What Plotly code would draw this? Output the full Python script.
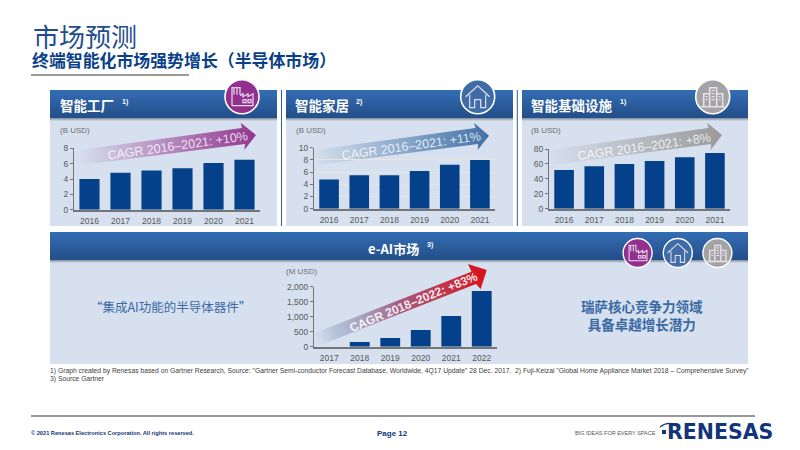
import base64
import plotly.graph_objects as go

years_factory = ["2016", "2017", "2018", "2019", "2020", "2021"]
values_factory = [4.0, 4.8, 5.1, 5.4, 6.1, 6.5]
ticks_factory = [0, 2, 4, 6, 8]

years_home = ["2016", "2017", "2018", "2019", "2020", "2021"]
values_home = [4.8, 5.5, 5.5, 6.2, 7.2, 8.0]
ticks_home = [0, 2, 4, 6, 8, 10]

years_infra = ["2016", "2017", "2018", "2019", "2020", "2021"]
values_infra = [52, 57, 60, 64, 69, 74.5]
ticks_infra = [0, 20, 40, 60, 80]

years_eai = ["2017", "2018", "2019", "2020", "2021", "2022"]
values_eai = [0, 155, 290, 555, 1020, 1855]
ticks_eai = [0, 500, 1000, 1500, 2000]

W, H = 800, 450
NAVY = "#05408A"
TICK = "#595959"
SANS = "Liberation Sans, Arial, sans-serif"
CJK = "Noto Sans CJK SC, sans-serif"


def arrow(gid, color, pts, x1, y1, x2, y2, mid=None):
    p = " ".join(f"{a},{b}" for a, b in pts)
    midstop = f'<stop offset="0.5" stop-color="{mid}"/>' if mid else ""
    start = "#8A9CC0" if mid else color
    return (
        f'<linearGradient id="{gid}" gradientUnits="userSpaceOnUse" x1="{x1}" y1="{y1}" x2="{x2}" y2="{y2}">'
        f'<stop offset="0" stop-color="{start}" stop-opacity="0"/>'
        f'<stop offset="0.12" stop-color="{start}" stop-opacity="{0.45 if mid else 0.12}"/>'
        f'{midstop}<stop offset="1" stop-color="{color}"/></linearGradient>'
        f'<polygon points="{p}" fill="url(#{gid})"/>'
    )


def header(x, y, w, h):
    return (
        f'<rect x="{x}" y="{y+h}" width="{w}" height="3" fill="url(#shadow)"/>'
        f'<rect x="{x}" y="{y}" width="{w}" height="{h}" fill="url(#head)"/>'
    )


def badge(cx, cy, r, fill, kind):
    s = r / 17
    g = f'<circle cx="{cx}" cy="{cy}" r="{r}" fill="{fill}" stroke="#ffffff" stroke-width="{1.6*s}"/>'
    g += f'<g transform="translate({cx},{cy}) scale({s})" fill="none" stroke="#e8e0ee" stroke-width="1.2">'
    if kind == "factory":
        g += ('<path d="M-10,9 V-9 H-8 V-2 M-7,-9 H-5 V-2 M-4,-9 H-2 V-2 M-10,9 H11 V-3 L6,0 V-3 L1,0 V-3 L-2,-1"/>'
              '<rect x="1" y="3" width="3" height="3"/><rect x="6" y="3" width="3" height="3"/>')
    elif kind == "house":
        g += '<path d="M-12,0 L0,-11 L12,0 M-8,-2 V11 H-3 V3 H3 V11 H8 V-2"/>'
    else:
        g += ('<path d="M-9,10 V-3 H-3 M-3,10 V-9 H4 V10 M4,-3 H10 V10 M-12,10 H12" stroke-width="1.6"/>'
              '<path d="M-1,-6 H2 M-1,-3 H2 M-1,0 H2 M-1,3 H2 M-7,0 H-5 M-7,3 H-5 M6,0 H8 M6,3 H8"/>')
    return g + "</g>"


svg = f'<svg xmlns="http://www.w3.org/2000/svg" width="{W}" height="{H}" viewBox="0 0 {W} {H}">'
svg += (
    '<defs><linearGradient id="head" x1="0" y1="0" x2="0" y2="1">'
    '<stop offset="0" stop-color="#346DB5"/><stop offset="1" stop-color="#234E88"/></linearGradient>'
    '<linearGradient id="shadow" x1="0" y1="0" x2="0" y2="1">'
    '<stop offset="0" stop-color="#7f8a99"/><stop offset="1" stop-color="#d6e0ee"/></linearGradient></defs>'
)
svg += f'<rect width="{W}" height="{H}" fill="#ffffff"/>'
svg += '<rect x="31" y="74" width="158" height="2" fill="#999999"/>'
svg += '<rect x="31" y="415.5" width="724" height="1" fill="#333333"/>'
for x, w in [(50, 227), (286, 227), (522, 226)]:
    svg += f'<rect x="{x}" y="90" width="{w}" height="136" fill="#D6E0EE"/>'
    svg += header(x, 90, w, 28)
svg += '<rect x="50" y="232" width="698" height="132" fill="#D6E0EE"/>'
svg += header(50, 232, 698, 28)
for x in (281.5, 517.3):
    svg += f'<rect x="{x-0.5}" y="90" width="1" height="136" fill="#2F5F9A"/>'
svg += arrow("a1", "#93368F", [(79, 150), (242, 128), (240.7, 122.7), (256, 135), (244.3, 150), (245, 144), (81, 165)], 79, 158, 256, 135)
svg += arrow("a2", "#4272A8", [(314, 150), (475.5, 128), (474, 122.7), (489, 135.7), (477.7, 150), (478, 144), (316, 165)], 314, 158, 489, 135)
svg += arrow("a3", "#9A9A9A", [(548, 150), (708.5, 128), (707, 122.7), (722, 135), (710.7, 150), (711, 144), (550, 165)], 548, 158, 722, 135)
svg += arrow("a4", "#DB0F19", [(314.6, 333), (471.5, 271.7), (468, 264), (486.7, 270), (480.7, 289), (476, 284), (318, 346)], 316, 340, 486, 272, mid="#A55C80")
svg += badge(242, 96.7, 17, "#93308F", "factory")
svg += badge(477.7, 96.7, 17, "#3E6CA6", "house")
svg += badge(712.7, 96.7, 17, "#A3A3A3", "infra")
svg += badge(637.6, 253, 14.5, "#93308F", "factory")
svg += badge(677.8, 253, 14.5, "#3E6CA6", "house")
svg += badge(717.4, 253, 14.5, "#A3A3A3", "infra")
svg += '<rect x="662" y="430" width="4" height="4" fill="#12357A"/>'
svg += '<path d="M660,427 Q668,421 675,425" fill="none" stroke="#12357A" stroke-width="1.2"/>'
svg += "</svg>"
bg = "data:image/svg+xml;base64," + base64.b64encode(svg.encode()).decode()

fig = go.Figure()
layout = dict(
    width=W, height=H, autosize=False, margin=dict(l=0, r=0, t=0, b=0, pad=0, autoexpand=False),
    paper_bgcolor="white", plot_bgcolor="rgba(0,0,0,0)", showlegend=False, bargap=0.35,
    images=[dict(source=bg, xref="paper", yref="paper", x=0, y=1, sizex=1, sizey=1,
                 xanchor="left", yanchor="top", sizing="stretch", layer="below")],
)

charts = [
    ("", years_factory, values_factory, ticks_factory, 74, 260, 148.3, 209.7, 8, "", False),
    ("2", years_home, values_home, ticks_home, 314, 495, 147.7, 208.7, 10, "", True),
    ("3", years_infra, values_infra, ticks_infra, 549, 730, 149, 208.7, 80, "", False),
    ("4", years_eai, values_eai, ticks_eai, 314, 497, 286.7, 346.7, 2000, ",", False),
]
for sid, xs, ys, ticks, x0, x1, ytop, ybot, ymax, sep, grid in charts:
    fig.add_trace(go.Bar(x=xs, y=ys, marker=dict(color=NAVY, line=dict(width=0)),
                         xaxis="x" + sid, yaxis="y" + sid, hoverinfo="skip"))
    layout["xaxis" + sid] = dict(
        domain=[x0 / W, x1 / W], anchor="y" + sid, type="category", range=[-0.5, 5.5],
        showgrid=False, showline=True, linecolor="#757575", linewidth=2, ticks="", zeroline=False,
        tickfont=dict(family=SANS, size=8.5, color=TICK), ticklabelstandoff=2,
    )
    layout["yaxis" + sid] = dict(
        domain=[1 - ybot / H, 1 - ytop / H], anchor="x" + sid, range=[0, ymax],
        tickvals=ticks, tickformat=sep + "d" if sep else "d",
        showgrid=grid, gridcolor="#E6E6E0", gridwidth=1, zeroline=False,
        showline=True, linecolor="#757575", linewidth=1, ticks="outside", ticklen=3,
        tickcolor="#757575", tickfont=dict(family=SANS, size=8.5, color=TICK),
    )


def label(text, x, y, size, color, family=SANS, anchor="left", angle=0):
    return dict(text=text, x=x / W, y=1 - y / H, xref="paper", yref="paper", showarrow=False,
                xanchor=anchor, yanchor="middle", textangle=angle,
                font=dict(family=family, size=size, color=color), borderpad=0, borderwidth=0)


WHITE = "#FFFFFF"
ann = [
    label("市场预测", 33, 36, 26, "#1F4E8C", CJK),
    label("<b>终端智能化市场强势增长（半导体市场）</b>", 32, 59.5, 16.9, "#0A3F8A", CJK),
    label("<b>智能工厂</b>", 60, 105, 13.5, WHITE, CJK),
    label("<b>1)</b>", 122, 102, 7, WHITE),
    label("<b>智能家居</b>", 295, 105, 13.5, WHITE, CJK),
    label("<b>2)</b>", 356, 102, 7, WHITE),
    label("<b>智能基础设施</b>", 531, 105, 13.5, WHITE, CJK),
    label("<b>1)</b>", 620, 102, 7, WHITE),
    label("<b>e-AI市场</b>", 393, 248, 13, WHITE, CJK, "center"),
    label("<b>3)</b>", 427, 245, 7, WHITE),
    label("(B USD)", 60, 130, 8, "#6F6F6F"),
    label("(B USD)", 296, 130, 8, "#6F6F6F"),
    label("(B USD)", 531, 130, 8, "#6F6F6F"),
    label("(M USD)", 286, 271, 8, "#6F6F6F"),
    label("CAGR 2016–2021: +10%", 177, 146, 12.5, "rgba(255,255,255,0.8)", SANS, "center", -8),
    label("CAGR 2016–2021: +11%", 411, 146, 12.5, "rgba(255,255,255,0.8)", SANS, "center", -8),
    label("CAGR 2016–2021: +8%", 644, 147, 12.5, "rgba(255,255,255,0.8)", SANS, "center", -8),
    label("<b>CAGR 2018–2022: +83%</b>", 414, 302, 12, "rgba(255,255,255,0.9)", SANS, "center", -22.6),
    label("“集成AI功能的半导体器件”", 170.6, 306, 12.5, "#3A6AA5", CJK, "center"),
    label("<b>瑞萨核心竞争力领域<br>具备卓越增长潜力</b>", 642, 315, 13.5, "#3A6AA5", CJK, "center"),
    label("1) Graph created by Renesas based on Gartner Research, Source: \"Gartner Semi-conductor Forecast Database, "
          "Worldwide, 4Q17 Update\" 28 Dec. 2017.  2) Fuji-Keizai \"Global Home Appliance Market 2018 – Comprehensive Survey\"",
          50, 371, 6.75, "#404040"),
    label("3) Source Gartner", 50, 379, 6.75, "#404040"),
    label("<b>© 2021 Renesas Electronics Corporation. All rights reserved.</b>", 31, 433, 5.65, "#12357A"),
    label("<b>Page 12</b>", 392, 433, 8, "#12357A", SANS, "center"),
    label("BIG IDEAS FOR EVERY SPACE", 575, 433, 5.5, "#555555"),
    label("<b>RENESAS</b>", 667, 432, 20.5, "#12357A", "DejaVu Sans, sans-serif"),
]
layout["annotations"] = ann
fig.update_layout(**layout)
fig.write_html("out.html", config=dict(displayModeBar=False),
               post_script="document.body.style.margin='0';document.documentElement.style.overflow='hidden';")
